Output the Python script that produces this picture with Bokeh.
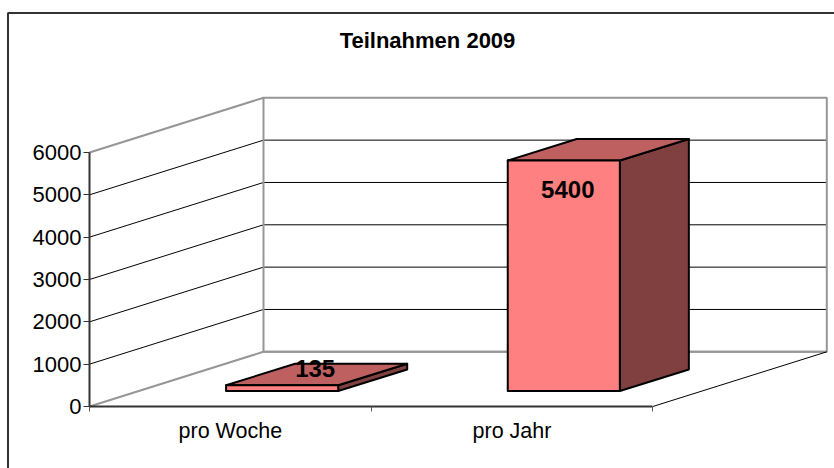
from bokeh.plotting import figure
from bokeh.models import Range1d, FixedTicker
from bokeh.embed import file_html
from bokeh.resources import INLINE
from bokeh.core.properties import value

title_text = "Teilnahmen 2009"
categories = ["pro Woche", "pro Jahr"]
values = [135, 5400]
value_ticks = [0, 1000, 2000, 3000, 4000, 5000, 6000]
label_dx = [33, 4]
label_dy = [-17, 29]

FONT = "Liberation Sans"
W, H = 834, 468
ORIGIN_X, ORIGIN_Y = 89, 406
PX_PER_VALUE = 254 / 6000
PX_PER_CAT = 281.65
WALL_DX = 174 / PX_PER_CAT
WALL_DY = 54.7 / PX_PER_VALUE
BAR_W = 0.398
BAR_OFF_X = 0.184
BAR_OFF_Y = 15.5 / PX_PER_VALUE
BAR_DX = 69 / PX_PER_CAT
BAR_DY = 21.5 / PX_PER_VALUE
BAR_SCALE = 1.008
VMAX = value_ticks[-1]
N = len(categories)


def cx(px):
    return (px - ORIGIN_X) / PX_PER_CAT


def cy(py):
    return (ORIGIN_Y - py) / PX_PER_VALUE


p = figure(
    width=W, height=H,
    min_border_left=0, min_border_right=0, min_border_top=0, min_border_bottom=0,
    x_range=Range1d(cx(0), cx(W)), y_range=Range1d(cy(H), cy(0)),
    output_backend="svg", toolbar_location=None,
    background_fill_color="white", border_fill_color="white", outline_line_color=None,
)
p.grid.visible = False

# axes
xa = p.xaxis[0]
xa.fixed_location = 0
xa.ticker = FixedTicker(ticks=[i + 0.5 for i in range(N)], minor_ticks=list(range(N + 1)))
xa.major_label_overrides = {i + 0.5: c for i, c in enumerate(categories)}
xa.bounds = (0, N)
xa.major_tick_in = 0
xa.major_tick_out = 0
xa.minor_tick_in = 0
xa.minor_tick_out = 5
xa.minor_tick_line_color = "#555555"
xa.axis_line_color = "#333333"
xa.axis_line_width = 2
xa.major_label_standoff = 7
xa.major_label_text_font = FONT
xa.major_label_text_font_size = "21.5px"
xa.major_label_text_color = "#000000"

ya = p.yaxis[0]
ya.fixed_location = 0
ya.ticker = FixedTicker(ticks=value_ticks)
ya.bounds = (0, VMAX)
ya.major_tick_in = 0
ya.major_tick_out = 6
ya.minor_tick_in = 0
ya.minor_tick_out = 0
ya.major_tick_line_color = "#333333"
ya.axis_line_color = "#333333"
ya.axis_line_width = 2
ya.major_label_standoff = 2
ya.major_label_text_font = FONT
ya.major_label_text_font_size = "22px"
ya.major_label_text_color = "#000000"
ya.major_label_orientation = "horizontal"
ya.formatter.use_scientific = False

# chart-area frame: only its left and top edges fall inside the picture
p.line([cx(7.5), cx(7.5), cx(W)], [cy(H), cy(12.5), cy(12.5)], line_color="#333333", line_width=2)

# title
p.text(x=[cx(427)], y=[cy(40)], text=[title_text], text_align="center", text_baseline="middle",
       text_font=value(FONT), text_font_size="22px", text_font_style="bold", text_color="#000000")

# walls: gridlines
for v in value_ticks[1:-1]:
    p.line([0, WALL_DX, N + WALL_DX], [v, v + WALL_DY, v + WALL_DY], line_color="#000000", line_width=1)

# walls: grey outline
GREY = "#969696"
p.line([0, WALL_DX, WALL_DX, N + WALL_DX, N + WALL_DX, WALL_DX],
       [VMAX, VMAX + WALL_DY, WALL_DY, WALL_DY, VMAX + WALL_DY, VMAX + WALL_DY],
       line_color=GREY, line_width=2)
p.line([0, WALL_DX, N + WALL_DX], [0, WALL_DY, WALL_DY], line_color=GREY, line_width=2)
p.line([N, N + WALL_DX], [0, WALL_DY], line_color="#000000", line_width=1)

# bars
front_x, front_y, top_x, top_y, side_x, side_y = [], [], [], [], [], []
for i, v in enumerate(values):
    x0 = i + 0.5 + BAR_OFF_X - BAR_W / 2
    x1 = x0 + BAR_W
    y0 = BAR_OFF_Y
    y1 = y0 + v * BAR_SCALE
    front_x.append([x0, x1, x1, x0])
    front_y.append([y0, y0, y1, y1])
    top_x.append([x0, x1, x1 + BAR_DX, x0 + BAR_DX])
    top_y.append([y1, y1, y1 + BAR_DY, y1 + BAR_DY])
    side_x.append([x1, x1 + BAR_DX, x1 + BAR_DX, x1])
    side_y.append([y0, y0 + BAR_DY, y1 + BAR_DY, y1])

edge = dict(line_color="#000000", line_width=2, line_join="round")
p.patches(side_x, side_y, fill_color="#804040", **edge)
p.patches(top_x, top_y, fill_color="#BF6060", **edge)
p.patches(front_x, front_y, fill_color="#FF8080", **edge)

# value labels
p.text(
    x=[i + 0.5 + BAR_OFF_X for i in range(N)],
    y=[BAR_OFF_Y + v * BAR_SCALE for v in values],
    text=[str(v) for v in values],
    x_offset=label_dx, y_offset=label_dy,
    text_align="center", text_baseline="middle",
    text_font=value(FONT), text_font_size="24px", text_font_style="bold", text_color="#000000",
)

open("out.html", "w").write(file_html(p, INLINE))
